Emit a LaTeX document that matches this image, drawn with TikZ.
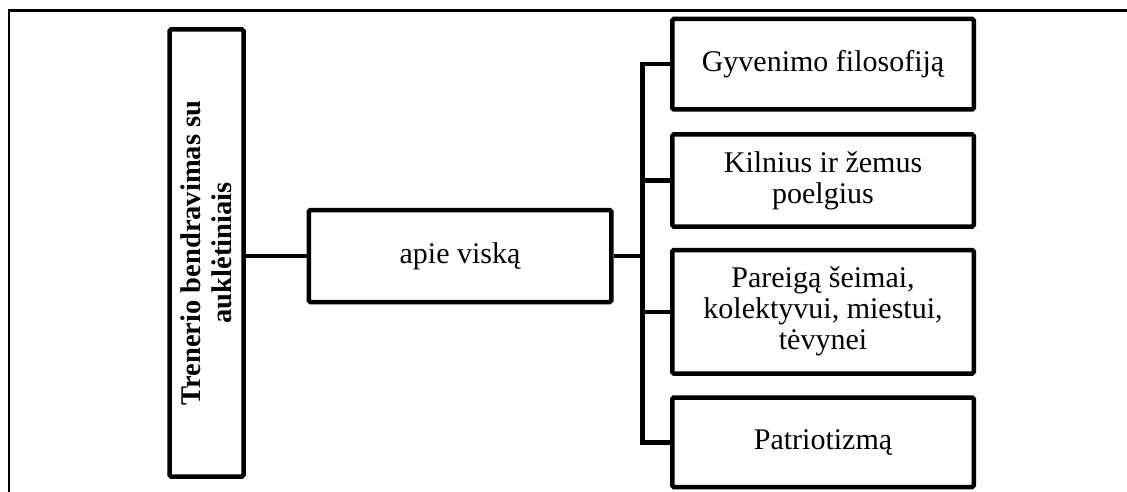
\documentclass[tikz,border=0pt]{standalone}
\usepackage{fontspec}
\setmainfont{Liberation Serif}
\begin{document}
\begin{tikzpicture}[x=1pt,y=-1pt,
  box/.style={draw=black, line width=4.5pt, rounded corners=1.5pt, fill=white,
    inner sep=0pt, align=center, font=\fontsize{30}{31}\selectfont},
  link/.style={draw=black, line width=4.5pt},
  frameline/.style={draw=black, line width=2.8pt}]
  \useasboundingbox (0,0) rectangle (1127,492);

  % outer frame (top and left edges only)
  \draw[frameline] (9,492) -- (9,10.5) -- (1127,10.5);

  % rotated title box
  \node[box, rotate=90, minimum width=447pt, minimum height=74pt,
        font=\fontsize{28.5}{31}\selectfont\bfseries]
    (title) at (206.5,253) {Trenerio bendravimas su\\auklėtiniais};

  % middle box
  \node[box, minimum width=302.5pt, minimum height=92pt]
    (apie) at (460,256) {apie viską};

  % right column
  \node[box, minimum width=301.5pt, minimum height=90.5pt]
    (c1) at (823,64.25) {Gyvenimo filosofiją};
  \node[box, minimum width=301.5pt, minimum height=92pt]
    (c2) at (823,180.5) {Kilnius ir žemus\\poelgius};
  \node[box, minimum width=301.5pt, minimum height=123.5pt]
    (c3) at (823,311.75) {Pareigą šeimai,\\kolektyvui, miestui,\\tėvynei};
  \node[box, minimum width=301.5pt, minimum height=89.5pt]
    (c4) at (823,442.25) {Patriotizmą};

  % connectors
  \coordinate (sp) at (642.5,0);
  \draw[link] (title.south |- apie.west) -- (apie.west);
  \draw[link] (apie.east) -- (apie.east -| sp);
  \draw[link] (c1.west) -- (c1.west -| sp) -- (c4.west -| sp) -- (c4.west);
  \draw[link] (c2.west) -- (c2.west -| sp);
  \draw[link] (c3.west) -- (c3.west -| sp);
\end{tikzpicture}
\end{document}
